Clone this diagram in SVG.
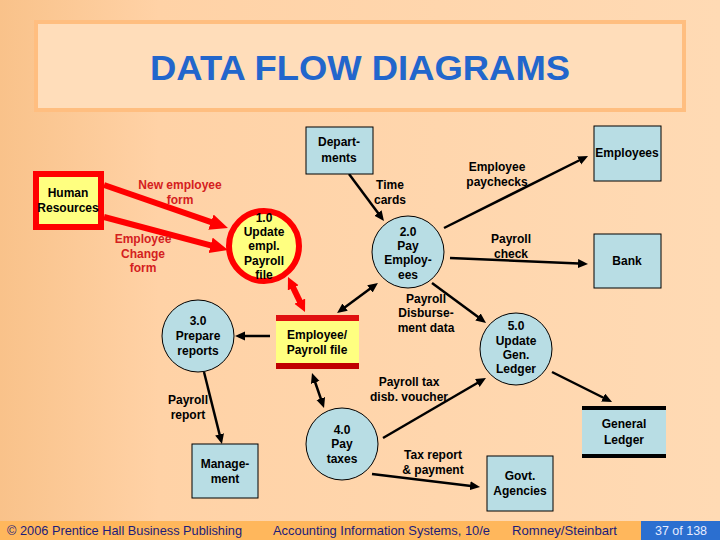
<svg xmlns="http://www.w3.org/2000/svg" width="720" height="540" viewBox="0 0 720 540">
<defs>
<linearGradient id="bg" x1="0" y1="0" x2="1" y2="0">
<stop offset="0" stop-color="#F9C28A"/>
<stop offset="0.22" stop-color="#FFD2A6"/>
<stop offset="1" stop-color="#FFDAB4"/>
</linearGradient>
<marker id="ah" markerUnits="userSpaceOnUse" markerWidth="12" markerHeight="10" refX="1" refY="4.5" orient="auto-start-reverse" viewBox="0 0 12 10">
<path d="M0,0 L10,4.5 L0,9 z" fill="#000"/>
</marker>
<marker id="rh" markerUnits="userSpaceOnUse" markerWidth="20" markerHeight="18" refX="1" refY="8" orient="auto-start-reverse" viewBox="0 0 20 18">
<path d="M0,0 L18,8 L0,16 z" fill="#FF0000"/>
</marker>
<marker id="rs" markerUnits="userSpaceOnUse" markerWidth="14" markerHeight="14" refX="1" refY="6" orient="auto-start-reverse" viewBox="0 0 14 14">
<path d="M0,0 L12,6 L0,12 z" fill="#FF0000"/>
</marker>
</defs>
<style>
text{font-family:"Liberation Sans",Arial,sans-serif;font-weight:bold;font-size:12px;text-anchor:middle;fill:#000}
.red{fill:#D42020}
.box{fill:#B8DDE4;stroke:#000;stroke-width:1}
.proc{fill:#B8DDE4;stroke:#000;stroke-width:1}
.blk{stroke:#000;stroke-width:2.5;fill:none}
.redl{stroke:#FF0000;stroke-width:6;fill:none}
.foot{font-weight:normal;font-size:13px;fill:#1C1C7A;text-anchor:start}
</style>
<rect x="0" y="0" width="720" height="540" fill="url(#bg)"/>
<g id="title">
<rect x="36" y="22" width="648" height="88" fill="#FFDDBA" stroke="#FFBE80" stroke-width="4"/>
<text x="360" y="80" style="font-size:35px;fill:#2266CC;font-weight:bold" textLength="420" lengthAdjust="spacingAndGlyphs">DATA FLOW DIAGRAMS</text>
</g>
<g id="connectors">
<line class="redl" x1="104" y1="185" x2="211.9" y2="222.4" marker-end="url(#rh)"/>
<line class="redl" x1="104" y1="217" x2="211.6" y2="245.6" marker-end="url(#rh)"/>
<line class="redl" x1="292.8" y1="286.9" x2="300.2" y2="302.1" marker-start="url(#rs)" marker-end="url(#rs)"/>
<line class="blk" x1="349" y1="174" x2="378.6" y2="213.8" marker-end="url(#ah)"/>
<line class="blk" x1="444" y1="228" x2="580" y2="160" marker-end="url(#ah)"/>
<line class="blk" x1="450" y1="258" x2="579" y2="263.6" marker-end="url(#ah)"/>
<line class="blk" x1="432" y1="283" x2="478.8" y2="317.6" marker-end="url(#ah)"/>
<line class="blk" x1="370.7" y1="288.3" x2="344.3" y2="307.7" marker-start="url(#ah)" marker-end="url(#ah)"/>
<line class="blk" x1="270" y1="336" x2="244" y2="336" marker-end="url(#ah)"/>
<line class="blk" x1="204" y1="372" x2="219.8" y2="435.3" marker-end="url(#ah)"/>
<line class="blk" x1="314.9" y1="381.5" x2="321.1" y2="399.5" marker-start="url(#ah)" marker-end="url(#ah)"/>
<line class="blk" x1="383" y1="438" x2="478.2" y2="382.5" marker-end="url(#ah)"/>
<line class="blk" x1="372" y1="474" x2="471.1" y2="485.9" marker-end="url(#ah)"/>
<line class="blk" x1="552" y1="372" x2="604" y2="398" marker-end="url(#ah)"/>
<text class="red" x="180" y="189">New employee</text>
<text class="red" x="180" y="204">form</text>
<text class="red" x="143" y="243">Employee</text>
<text class="red" x="143" y="258">Change</text>
<text class="red" x="143" y="272">form</text>
<text x="390" y="189">Time</text>
<text x="390" y="204">cards</text>
<text x="497" y="171">Employee</text>
<text x="497" y="186">paychecks</text>
<text x="511" y="243">Payroll</text>
<text x="511" y="258">check</text>
<text x="426" y="303">Payroll</text>
<text x="426" y="317">Disburse-</text>
<text x="426" y="332">ment data</text>
<text x="188" y="404">Payroll</text>
<text x="188" y="419">report</text>
<text x="409" y="386">Payroll tax</text>
<text x="409" y="401">disb. voucher</text>
<text x="433" y="459">Tax report</text>
<text x="433" y="474">&amp; payment</text>
</g>
<g id="human-resources">
<rect x="36" y="174" width="65" height="53" fill="#FFFF80" stroke="#FF0000" stroke-width="6"/>
<text x="68" y="197">Human</text>
<text x="68" y="212">Resources</text>
</g>
<g id="p1">
<circle cx="264" cy="246" r="35" fill="#FFFF80" stroke="#FF0000" stroke-width="6"/>
<text x="264" y="222">1.0</text>
<text x="264" y="236">Update</text>
<text x="264" y="250">empl.</text>
<text x="264" y="265">Payroll</text>
<text x="264" y="279">file</text>
</g>
<g id="departments">
<rect class="box" x="306" y="127" width="67" height="47"/>
<text x="339" y="146">Depart-</text>
<text x="339" y="162">ments</text>
</g>
<g id="p2">
<circle class="proc" cx="408" cy="252" r="36"/>
<text x="408" y="236">2.0</text>
<text x="408" y="250">Pay</text>
<text x="408" y="264">Employ-</text>
<text x="408" y="279">ees</text>
</g>
<g id="employees">
<rect class="box" x="594" y="126" width="67" height="55"/>
<text x="627" y="157">Employees</text>
</g>
<g id="bank">
<rect class="box" x="594" y="234" width="67" height="54"/>
<text x="627" y="265">Bank</text>
</g>
<g id="employee-payroll-file">
<rect x="276" y="318" width="83" height="48" fill="#FFFF80"/>
<rect x="276" y="315" width="83" height="6" fill="#E01010"/>
<rect x="276" y="363" width="83" height="6" fill="#C00000"/>
<text x="317" y="339">Employee/</text>
<text x="317" y="354">Payroll file</text>
</g>
<g id="p3">
<circle class="proc" cx="198" cy="336" r="36"/>
<text x="198" y="325">3.0</text>
<text x="198" y="340">Prepare</text>
<text x="198" y="355">reports</text>
</g>
<g id="management">
<rect class="box" x="192" y="444" width="66" height="54"/>
<text x="225" y="468">Manage-</text>
<text x="225" y="483">ment</text>
</g>
<g id="p4">
<circle class="proc" cx="342" cy="444" r="36"/>
<text x="342" y="434">4.0</text>
<text x="342" y="448">Pay</text>
<text x="342" y="463">taxes</text>
</g>
<g id="p5">
<circle class="proc" cx="516" cy="349" r="36"/>
<text x="516" y="330">5.0</text>
<text x="516" y="345">Update</text>
<text x="516" y="359">Gen.</text>
<text x="516" y="373">Ledger</text>
</g>
<g id="general-ledger">
<rect x="582" y="406" width="84" height="52" fill="#B8DDE4"/>
<rect x="582" y="406" width="84" height="4" fill="#000"/>
<rect x="582" y="454" width="84" height="4" fill="#000"/>
<text x="624" y="428">General</text>
<text x="624" y="444">Ledger</text>
</g>
<g id="govt-agencies">
<rect class="box" x="487" y="456" width="66" height="55"/>
<text x="520" y="480">Govt.</text>
<text x="520" y="495">Agencies</text>
</g>
<g id="footer">
<rect x="0" y="521" width="720" height="19" fill="#FFB75C"/>
<rect x="641" y="521" width="79" height="19" fill="#2B6FD0"/>
<text class="foot" x="7" y="535" textLength="235" lengthAdjust="spacingAndGlyphs">© 2006 Prentice Hall Business Publishing</text>
<text class="foot" x="273" y="535" textLength="217" lengthAdjust="spacingAndGlyphs">Accounting Information Systems, 10/e</text>
<text class="foot" x="512" y="535" textLength="105" lengthAdjust="spacingAndGlyphs">Romney/Steinbart</text>
<text class="foot" x="655" y="535" textLength="52" lengthAdjust="spacingAndGlyphs" style="fill:#E6ECFF">37 of 138</text>
</g>
</svg>
